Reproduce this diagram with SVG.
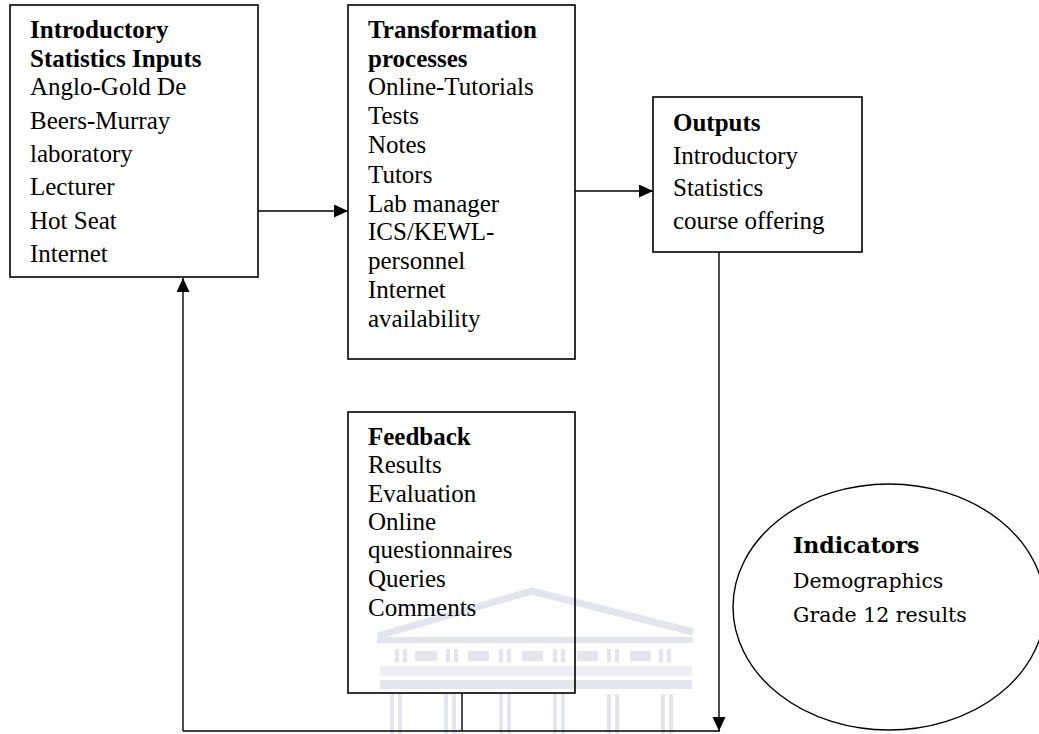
<svg xmlns="http://www.w3.org/2000/svg" width="1039" height="734" viewBox="0 0 1039 734">
<style>
.box{fill:none;stroke:#000;stroke-width:1.6}
.t{font-family:"Liberation Serif","Times New Roman",serif;font-size:25px;fill:#000}
.b{font-weight:bold}
.c{font-family:"DejaVu Serif",serif;font-size:20.5px;fill:#000}
.ln{fill:none;stroke:#000;stroke-width:1.4}
.wm{fill:#e2e5ee}
</style>
<defs>
<marker id="arr" markerUnits="userSpaceOnUse" markerWidth="15" markerHeight="14" refX="14" refY="6.5" orient="auto">
<path d="M0,0 L14,6.5 L0,13 z" fill="#000"/>
</marker>
</defs>
<rect width="1039" height="734" fill="#fff"/>
<g id="watermark">
<polyline points="378,636 532,591 693,632" fill="none" stroke="#e2e5ee" stroke-width="7"/>
<rect class="wm" x="377" y="637" width="316" height="6"/>
<rect class="wm" x="395" y="649" width="4" height="13"/><rect class="wm" x="403" y="649" width="4" height="13"/>
<rect class="wm" x="415" y="651" width="22" height="10"/>
<rect class="wm" x="446" y="649" width="4" height="13"/><rect class="wm" x="454" y="649" width="4" height="13"/>
<rect class="wm" x="468" y="651" width="21" height="10"/>
<rect class="wm" x="499" y="649" width="4" height="13"/><rect class="wm" x="507" y="649" width="4" height="13"/>
<rect class="wm" x="522" y="651" width="21" height="10"/>
<rect class="wm" x="553" y="649" width="4" height="13"/><rect class="wm" x="561" y="649" width="4" height="13"/>
<rect class="wm" x="577" y="651" width="21" height="10"/>
<rect class="wm" x="607" y="649" width="4" height="13"/><rect class="wm" x="615" y="649" width="4" height="13"/>
<rect class="wm" x="630" y="651" width="21" height="10"/>
<rect class="wm" x="659" y="649" width="4" height="13"/><rect class="wm" x="667" y="649" width="4" height="13"/>
<rect class="wm" x="380" y="666" width="312" height="10" fill-opacity="0.6"/>
<rect class="wm" x="380" y="680" width="312" height="9"/>
<g class="wm">
<rect x="390" y="694" width="4" height="40"/><rect x="398" y="694" width="4" height="40"/>
<rect x="444" y="694" width="4" height="40"/><rect x="452" y="694" width="4" height="40"/>
<rect x="499" y="694" width="4" height="40"/><rect x="507" y="694" width="4" height="40"/>
<rect x="553" y="694" width="4" height="40"/><rect x="561" y="694" width="4" height="40"/>
<rect x="607" y="694" width="4" height="40"/><rect x="615" y="694" width="4" height="40"/>
<rect x="661" y="694" width="4" height="40"/><rect x="669" y="694" width="4" height="40"/>
</g>
</g>
<g id="connectors">
<line class="ln" x1="258" y1="211" x2="348" y2="211" marker-end="url(#arr)"/>
<line class="ln" x1="575" y1="191" x2="653" y2="191" marker-end="url(#arr)"/>
<line class="ln" x1="719" y1="252" x2="719" y2="731" marker-end="url(#arr)"/>
<line class="ln" x1="183" y1="731" x2="720" y2="731"/>
<line class="ln" x1="462" y1="693" x2="462" y2="731"/>
<line class="ln" x1="183" y1="731" x2="183" y2="278" marker-end="url(#arr)"/>
</g>
<g id="inputs">
<rect class="box" x="10" y="5" width="248" height="272"/>
<text class="t b" x="30" y="38">Introductory</text>
<text class="t b" x="30" y="67">Statistics Inputs</text>
<text class="t" x="30" y="95">Anglo-Gold De</text>
<text class="t" x="30" y="128.5">Beers-Murray</text>
<text class="t" x="30" y="162">laboratory</text>
<text class="t" x="30" y="195">Lecturer</text>
<text class="t" x="30" y="228.5">Hot Seat</text>
<text class="t" x="30" y="262">Internet</text>
</g>
<g id="transformation">
<rect class="box" x="348" y="5" width="227" height="354"/>
<text class="t b" x="368" y="38">Transformation</text>
<text class="t b" x="368" y="67">processes</text>
<text class="t" x="368" y="95">Online-Tutorials</text>
<text class="t" x="368" y="124">Tests</text>
<text class="t" x="368" y="153">Notes</text>
<text class="t" x="368" y="183">Tutors</text>
<text class="t" x="368" y="212">Lab manager</text>
<text class="t" x="368" y="240">ICS/KEWL-</text>
<text class="t" x="368" y="269">personnel</text>
<text class="t" x="368" y="298">Internet</text>
<text class="t" x="368" y="327">availability</text>
</g>
<g id="outputs">
<rect class="box" x="653" y="97" width="209" height="155"/>
<text class="t b" x="673" y="131">Outputs</text>
<text class="t" x="673" y="163.5">Introductory</text>
<text class="t" x="673" y="196">Statistics</text>
<text class="t" x="673" y="228.5">course offering</text>
</g>
<g id="feedback">
<rect class="box" x="348" y="412" width="227" height="281"/>
<text class="t b" x="368" y="445">Feedback</text>
<text class="t" x="368" y="473">Results</text>
<text class="t" x="368" y="502">Evaluation</text>
<text class="t" x="368" y="530">Online</text>
<text class="t" x="368" y="558">questionnaires</text>
<text class="t" x="368" y="587">Queries</text>
<text class="t" x="368" y="616">Comments</text>
</g>
<g id="indicators">
<ellipse cx="889" cy="607" rx="156" ry="123" fill="none" stroke="#000" stroke-width="1.4"/>
<text class="c b" x="793" y="553" style="font-size:22px">Indicators</text>
<text class="c" x="793" y="588">Demographics</text>
<text class="c" x="793" y="622">Grade 12 results</text>
</g>
</svg>
